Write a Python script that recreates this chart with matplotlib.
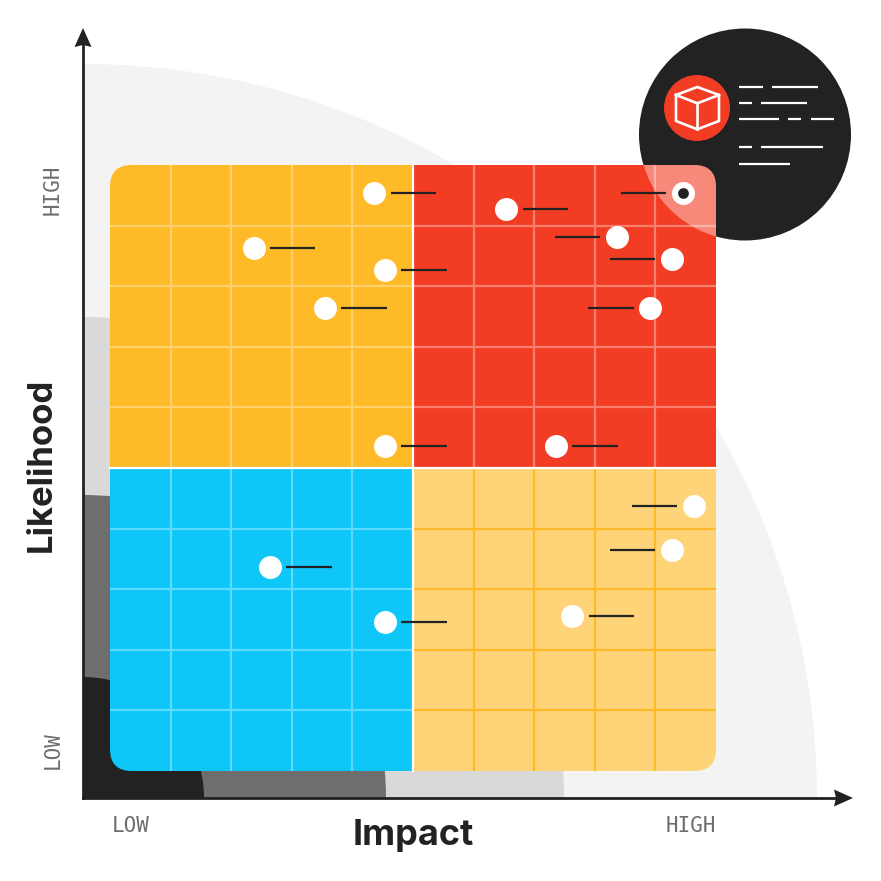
import matplotlib
matplotlib.use('Agg')
import matplotlib.pyplot as plt
from matplotlib.patches import Circle, FancyBboxPatch, Polygon, Rectangle, Wedge

# risk points, in grid cells (0-10 on both axes)
impact = [4.36, 2.37, 4.54, 3.55, 4.54, 6.54, 8.36, 9.27, 8.91, 7.36, 9.45, 9.63, 9.27, 7.63, 2.64, 4.54]
likelihood = [9.54, 8.63, 8.27, 7.64, 5.36, 9.28, 8.82, 8.45, 7.64, 5.36, 9.54, 4.37, 3.64, 2.56, 3.37, 2.46]
leader_side = [1, 1, 1, 1, 1, 1, -1, -1, -1, 1, -1, -1, -1, 1, 1, 1]

# quadrants: left, bottom, fill, grid colour
quadrants = [
    (0, 5, '#FFBA27', '#FFD06C'),
    (5, 5, '#F23C23', '#F87F6E'),
    (0, 0, '#0EC6F7', '#5EDBFB'),
    (5, 0, '#FFD378', '#FFBA27'),
]

# background quarter circles, radius in pixels
arc_radii = [734, 481, 303, 121]
arc_colors = ['#F3F3F3', '#D9D9D9', '#6E6E6E', '#222222']

DARK = '#222222'
CELL = 60.6
X0, Y0 = 110, 771


def gx(x):
    return (x - X0) / CELL


def gy(y):
    return (Y0 - y) / CELL


fig = plt.figure(figsize=(8.81, 8.81), dpi=100)
ax = fig.add_axes([0, 0, 1, 1])
ax.set_xlim(gx(0), gx(881))
ax.set_ylim(gy(881), gy(0))
ax.axis('off')

# background arcs
for r, c in zip(arc_radii, arc_colors):
    ax.add_patch(Wedge((gx(83), gy(798)), r / CELL, 0, 90, fc=c, ec='none', zorder=1))

# legend bubble
ax.add_patch(Circle((gx(745), gy(134.5)), 106 / CELL, fc=DARK, ec='none', zorder=2))
ax.add_patch(Circle((gx(697), gy(108)), 33 / CELL, fc='#F23C23', ec='none', zorder=3))

# cube icon
cube = [
    [(676, 95), (697.3, 87), (719, 95), (719, 121), (697.3, 129.3), (676, 121), (676, 95)],
    [(676, 95), (697.3, 103.3), (719, 95)],
    [(697.3, 103.3), (697.3, 129.3)],
]
for part in cube:
    ax.plot([gx(p[0]) for p in part], [gy(p[1]) for p in part], color='white', lw=1.9,
            solid_joinstyle='round', zorder=4)

# legend text placeholders
text_bars = [
    (86.7, [(738.7, 762.7), (772, 817.7)]),
    (103.3, [(738.7, 751.7), (761, 806.7)]),
    (119.3, [(738.7, 779), (788, 801), (810.7, 834.3)]),
    (147, [(738.7, 751.7), (761, 823)]),
    (163.7, [(738.7, 790)]),
]
for y, segs in text_bars:
    for a, b in segs:
        ax.plot([gx(a), gx(b)], [gy(y), gy(y)], color='white', lw=1.6, solid_capstyle='butt', zorder=4)

# matrix with rounded corners
clip = FancyBboxPatch((0.36, 0.36), 9.28, 9.28, boxstyle='round,pad=0.36,rounding_size=0.36',
                      fc='none', ec='none', transform=ax.transData, zorder=5)
ax.add_patch(clip)

for left, bottom, fill, line in quadrants:
    rect = Rectangle((left, bottom), 5, 5, fc=fill, ec='none', zorder=5)
    ax.add_patch(rect)
    rect.set_clip_path(clip)
    for i in range(1, 5):
        v = ax.plot([left + i, left + i], [bottom, bottom + 5], color=line, lw=1.6, zorder=6)[0]
        h = ax.plot([left, left + 5], [bottom + i, bottom + i], color=line, lw=1.6, zorder=6)[0]
        v.set_clip_path(clip)
        h.set_clip_path(clip)

# part of the bubble that shows through the matrix
glow = Circle((gx(745), gy(134.5)), 106 / CELL, fc='white', ec='none', alpha=0.4, zorder=7)
ax.add_patch(glow)
glow.set_clip_path(clip)

ax.plot([5, 5], [0, 10], color='white', lw=1.6, zorder=8)
ax.plot([0, 10], [5, 5], color='white', lw=1.6, zorder=8)

# axes
ax.plot([gx(83), gx(83)], [gy(798), gy(40)], color=DARK, lw=2, zorder=9, solid_capstyle='projecting')
ax.plot([gx(83), gx(840)], [gy(798), gy(798)], color=DARK, lw=2, zorder=9, solid_capstyle='projecting')
ax.add_patch(Polygon([(gx(83), gy(28)), (gx(91.5), gy(47)), (gx(83), gy(45)), (gx(74.5), gy(47))],
                     fc=DARK, ec='none', zorder=9))
ax.add_patch(Polygon([(gx(853), gy(798)), (gx(834), gy(806.5)), (gx(836), gy(798)), (gx(834), gy(789.5))],
                     fc=DARK, ec='none', zorder=9))

# leader lines then points
for x, y, side in zip(impact, likelihood, leader_side):
    ax.plot([x + side * 0.27, x + side * 1.02], [y, y], color=DARK, lw=1.6, solid_capstyle='butt', zorder=10)
ax.scatter(impact, likelihood, s=274, color='white', linewidths=0, zorder=11)

# the selected point
ax.scatter([impact[10]], [likelihood[10]], s=60, color=DARK, linewidths=0, zorder=12)

# labels
ax.text(gx(413.5), gy(835), 'Impact', ha='center', va='center', fontsize=26, fontweight='bold',
        family='Inter', color=DARK, zorder=12)
ax.text(gx(42), gy(465), 'Likelihood', ha='center', va='center', rotation=90, fontsize=25, fontweight='bold',
        family='Inter', color=DARK, zorder=12)

tick_style = dict(family='DejaVu Sans Mono', fontsize=15, color='#6E6E6E', zorder=12)
ax.text(gx(112), gy(826), 'LOW', ha='left', va='center', **tick_style)
ax.text(gx(716), gy(826), 'HIGH', ha='right', va='center', **tick_style)
ax.text(gx(53), gy(769), 'LOW', ha='center', va='bottom', rotation=90, **tick_style)
ax.text(gx(53), gy(215), 'HIGH', ha='center', va='bottom', rotation=90, **tick_style)

fig.savefig('out.png', dpi=100)
